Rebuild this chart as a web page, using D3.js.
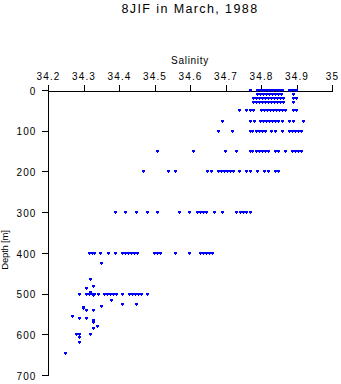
<!DOCTYPE html>
<html>
<head>
<meta charset="utf-8">
<script src="https://cdn.jsdelivr.net/npm/d3@7"></script>
<style>
  html, body { margin: 0; padding: 0; background: #fff; }
  svg { display: block; }
  text { font-family: "Liberation Sans", Arial, Helvetica, sans-serif; fill: #000; }
</style>
</head>
<body>
<svg id="chart" width="341" height="384"></svg>
<script>
// ---- data (salinity per sampled depth) ----
const title = "8JIF in March, 1988";
const xLabel = "Salinity";
const yLabel = "Depth [m]";
const xTicks = [34.2, 34.3, 34.4, 34.5, 34.6, 34.7, 34.8, 34.9, 35];
const yTicks = [0, 100, 200, 300, 400, 500, 600, 700];

const levelDepths = [0, 10, 20, 30, 50, 75, 100, 150, 200, 300, 400, 500];
const sal0 = [34.768, 34.788, 34.796, 34.805, 34.810, 34.819, 34.827, 34.833, 34.841, 34.850, 34.858, 34.878, 34.884, 34.892, 34.898];
const sal10 = [34.788, 34.796, 34.805, 34.813, 34.822, 34.830, 34.839, 34.847, 34.856, 34.891];
const sal20 = [34.777, 34.785, 34.794, 34.802, 34.811, 34.819, 34.828, 34.836, 34.845, 34.853, 34.862, 34.890, 34.898];
const sal30 = [34.777, 34.785, 34.794, 34.802, 34.811, 34.819, 34.828, 34.836, 34.845, 34.853, 34.862, 34.890];
const sal50 = [34.739, 34.758, 34.768, 34.778, 34.799, 34.808, 34.816, 34.825, 34.833, 34.842, 34.850, 34.858, 34.868, 34.889, 34.899];
const sal75 = [34.689, 34.768, 34.779, 34.796, 34.805, 34.813, 34.822, 34.830, 34.839, 34.847, 34.858, 34.878, 34.889, 34.919];
const sal100 = [34.678, 34.719, 34.768, 34.776, 34.785, 34.793, 34.802, 34.810, 34.827, 34.839, 34.860, 34.878, 34.887, 34.895, 34.903, 34.912];
const sal150 = [34.508, 34.608, 34.699, 34.729, 34.768, 34.776, 34.785, 34.793, 34.802, 34.810, 34.819, 34.839, 34.847, 34.868, 34.887, 34.895, 34.903, 34.912];
const sal200 = [34.468, 34.539, 34.558, 34.647, 34.658, 34.678, 34.686, 34.695, 34.703, 34.712, 34.720, 34.739, 34.757, 34.768, 34.789, 34.808, 34.819, 34.839, 34.847];
const sal300 = [34.389, 34.417, 34.448, 34.479, 34.508, 34.570, 34.598, 34.619, 34.627, 34.636, 34.646, 34.668, 34.689, 34.729, 34.740, 34.749, 34.757, 34.768];
const sal400 = [34.315, 34.323, 34.330, 34.347, 34.370, 34.388, 34.408, 34.416, 34.425, 34.433, 34.441, 34.450, 34.498, 34.506, 34.515, 34.557, 34.598, 34.627, 34.636, 34.644, 34.653, 34.661];
const sal500 = [34.288, 34.306, 34.315, 34.323, 34.329, 34.340, 34.357, 34.365, 34.374, 34.382, 34.391, 34.408, 34.427, 34.436, 34.444, 34.453, 34.461, 34.479];
const levelSalinity = [sal0, sal10, sal20, sal30, sal50, sal75, sal100, sal150, sal200, sal300, sal400, sal500];

// scattered samples below 400 m
const extraDepth = [426, 465, 481, 486, 496, 504, 516, 526, 526, 530, 532, 535, 540, 540, 555, 561, 561, 565, 570, 580, 585, 600, 600, 606, 600, 620, 645];
const extraSal   = [34.348, 34.317, 34.327, 34.306, 34.318, 34.326, 34.377, 34.408, 34.448, 34.348, 34.299, 34.299, 34.308, 34.327, 34.268, 34.287, 34.308, 34.327, 34.327, 34.338, 34.327, 34.278, 34.287, 34.287, 34.317, 34.287, 34.248];

// ---- build point table ----
const points = [];
levelDepths.forEach((d, i) => levelSalinity[i].forEach(s => points.push({ s, d })));
extraDepth.forEach((d, i) => points.push({ s: extraSal[i], d }));

// ---- layout ----
const svg = d3.select("#chart");
const x = d3.scaleLinear().domain([34.2, 35]).range([48, 332]);
const y = d3.scaleLinear().domain([0, 700]).range([90, 375]);

// title
svg.append("text")
  .attr("x", 190).attr("y", 12.5)
  .attr("text-anchor", "middle")
  .style("font-size", "12.5px").style("letter-spacing", "1.4px")
  .text(title);

// x label
svg.append("text")
  .attr("x", 190).attr("y", 64)
  .attr("text-anchor", "middle")
  .style("font-size", "10px").style("letter-spacing", "0.7px")
  .text(xLabel);

// y label
svg.append("text")
  .attr("transform", "translate(8," + 250 + ") rotate(-90)")
  .attr("text-anchor", "middle")
  .style("font-size", "9.5px").style("letter-spacing", "-0.2px")
  .text(yLabel);

// axes
const xAxis = d3.axisTop(x).tickValues(xTicks).tickSizeOuter(0).tickSize(6).tickPadding(5)
  .tickFormat(d => d3.format("")(d));
const gx = svg.append("g").attr("transform", "translate(0,90.5)").call(xAxis);
gx.selectAll("text").style("font-size", "10px").style("letter-spacing", "1.1px").style("font-family", "'Liberation Sans', Arial, sans-serif");

const yAxis = d3.axisLeft(y).tickValues(yTicks).tickSizeOuter(0).tickSize(6).tickPadding(5);
const gy = svg.append("g").attr("transform", "translate(47.5,0)").call(yAxis);
gy.selectAll("text").style("font-size", "10px").style("letter-spacing", "1.1px").style("font-family", "'Liberation Sans', Arial, sans-serif")
  .attr("dy", "0.42em");

[gx, gy].forEach(g => {
  g.selectAll("path, line").attr("stroke", "#000").attr("stroke-width", 1).attr("shape-rendering", "crispEdges");
});

// markers: 3x2 bar with a 1px bump beneath its centre
svg.append("g")
  .selectAll("path")
  .data(points)
  .join("path")
  .attr("d", p => {
    const cx = Math.round(x(p.s)), cy = Math.round(y(p.d));
    return `M${cx - 1},${cy - 1}h3v2h-3z M${cx},${cy + 1}h1v1h-1z`;
  })
  .attr("fill", "#0000ff")
  .attr("shape-rendering", "crispEdges");
</script>
</body>
</html>
